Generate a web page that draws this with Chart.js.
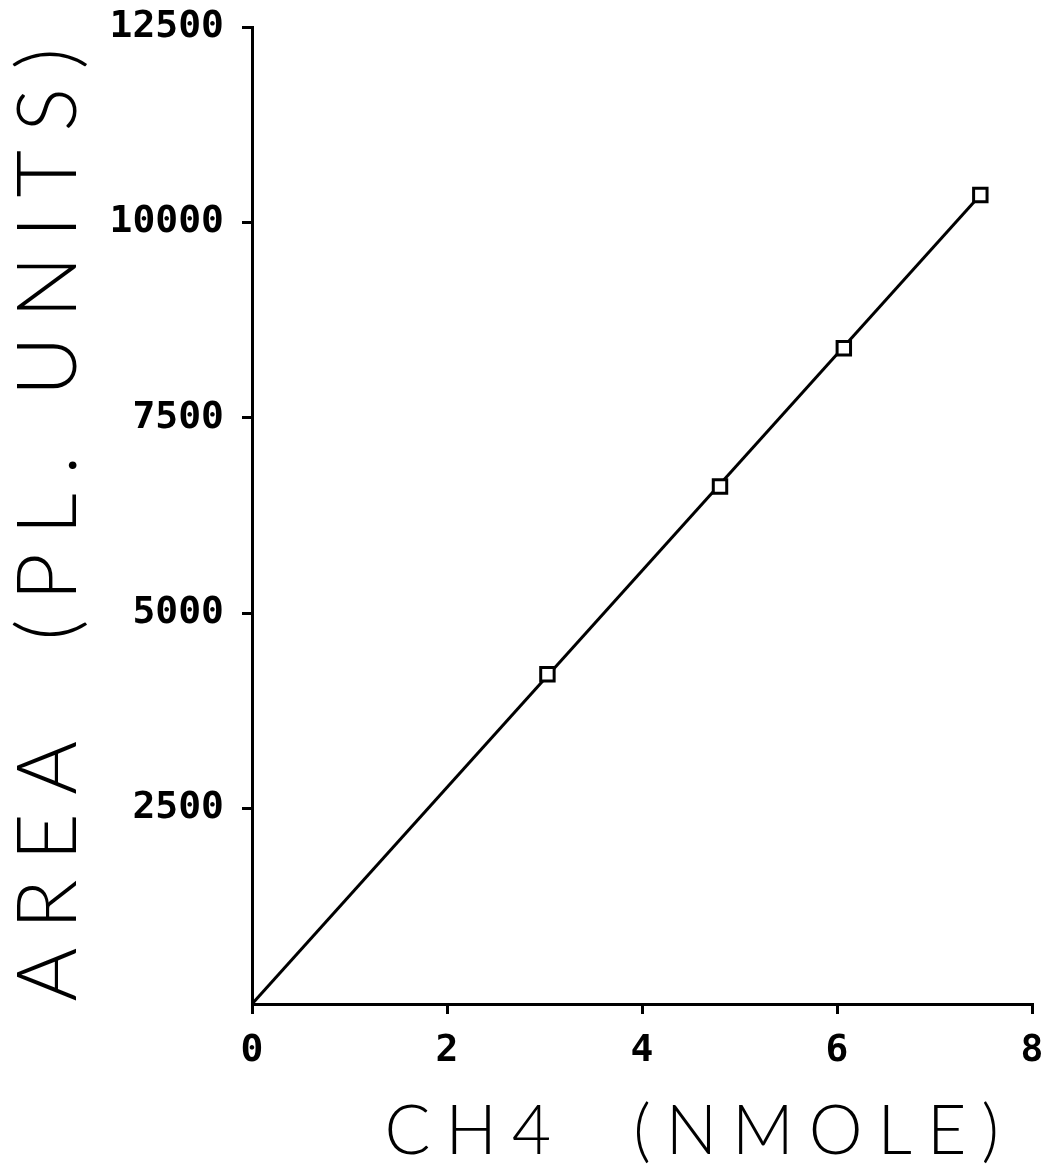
<!DOCTYPE html>
<html>
<head>
<meta charset="utf-8">
<script src="https://cdn.jsdelivr.net/npm/chart.js@4"></script>
<style>
  html, body { margin: 0; padding: 0; background: #fff; }
  #wrap { width: 1048px; height: 1165px; }
</style>
</head>
<body>
<div id="wrap"><canvas id="chart" width="1048" height="1165"></canvas></div>
<script>
// measured points
const ch4 = [3.03, 4.80, 6.07, 7.47];
const area = [4220, 6620, 8390, 10350];
// fitted line through origin
const fitX = [0, 7.47];
const fitY = [0, 10350];

const xTicks = [0, 2, 4, 6, 8];
const yTicks = [2500, 5000, 7500, 10000, 12500];

const tickFont = { family: 'DejaVu Sans Mono', size: 38, weight: 'bold' };

// wide plotter-style lettering for the axis titles only
const titleSpacing = { x: '15px', y: '18.6px' };
const spacedTitles = {
    id: 'spacedTitles',
    beforeDraw(chart) {
        Object.keys(titleSpacing).forEach(id => {
            const scale = chart.scales[id];
            if (!scale || scale._spaced) return;
            const orig = scale.drawTitle;
            scale.drawTitle = function () {
                this.ctx.save();
                this.ctx.letterSpacing = titleSpacing[id];
                if (id === 'x') this.ctx.translate(-18, 0);
                orig.apply(this, arguments);
                this.ctx.restore();
            };
            scale._spaced = true;
        });
    },
};

const ctx = document.getElementById('chart').getContext('2d');
new Chart(ctx, {
    type: 'scatter',
    data: {
        datasets: [{
            label: 'fit',
            data: fitX.map((x, i) => ({ x: x, y: fitY[i] })),
            showLine: true,
            borderColor: '#000',
            borderWidth: 3,
            pointRadius: 0,
            order: 2,
        }, {
            label: 'CH4',
            data: ch4.map((x, i) => ({ x: x, y: area[i] })),
            pointStyle: 'rect',
            pointRadius: 9.5,
            pointBorderWidth: 3,
            pointBackgroundColor: '#fff',
            pointBorderColor: '#000',
            order: 1,
        }],
    },
    plugins: [spacedTitles],
    options: {
        responsive: false,
        animation: false,
        layout: { padding: { top: 27, right: 16, left: 0, bottom: 0 } },
        plugins: { legend: { display: false }, tooltip: { enabled: false } },
        scales: {
            x: {
                type: 'linear',
                min: 0,
                max: 8,
                afterBuildTicks: s => { s.ticks = xTicks.map(v => ({ value: v })); },
                afterFit: s => { s.height = 161; s.paddingLeft = 0; s.paddingRight = 0; },
                border: { color: '#000', width: 3 },
                grid: { drawOnChartArea: false, color: '#000', lineWidth: 3, tickLength: 10 },
                ticks: { color: '#000', font: tickFont, padding: 14, maxRotation: 0, callback: v => String(v) },
                title: {
                    display: true,
                    text: 'CH4  (NMOLE)',
                    align: 'end',
                    color: '#000',
                    font: { family: 'Lato', size: 68, weight: 300 },
                    padding: { top: 0, bottom: -8 },
                },
            },
            y: {
                type: 'linear',
                min: 0,
                max: 12500,
                afterBuildTicks: s => { s.ticks = yTicks.map(v => ({ value: v })); },
                afterFit: s => { s.width = 252; s.paddingTop = 0; s.paddingBottom = 0; },
                border: { color: '#000', width: 3 },
                grid: { drawOnChartArea: false, color: '#000', lineWidth: 3, tickLength: 10 },
                ticks: { color: '#000', font: tickFont, padding: 18, callback: v => String(v) },
                title: {
                    display: true,
                    text: 'AREA  (PL. UNITS)',
                    color: '#000',
                    font: { family: 'Lato', size: 82, weight: 300 },
                    padding: { top: 0, bottom: 0 },
                },
            },
        },
    },
});
</script>
</body>
</html>
